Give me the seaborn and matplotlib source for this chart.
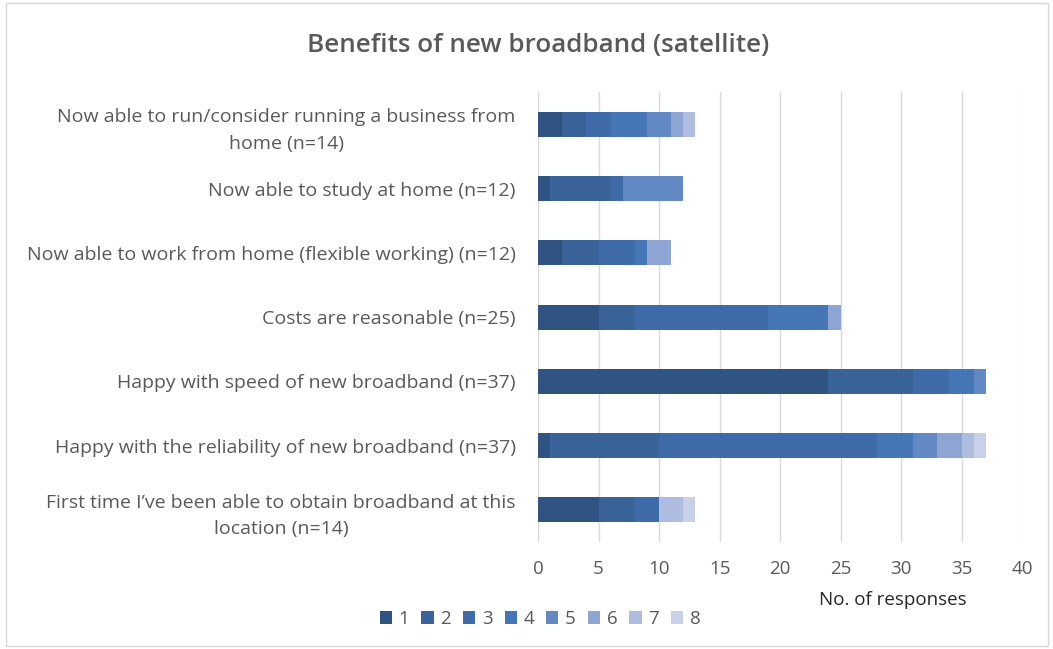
import matplotlib
matplotlib.use("Agg")
import matplotlib.pyplot as plt
import seaborn as sns
import pandas as pd
import numpy as np
from matplotlib.patches import Rectangle, Patch

# Survey categories (top to bottom)
categories = [
    "Now able to run/consider running a business from\nhome (n=14)",
    "Now able to study at home (n=12)",
    "Now able to work from home (flexible working) (n=12)",
    "Costs are reasonable (n=25)",
    "Happy with speed of new broadband (n=37)",
    "Happy with the reliability of new broadband (n=37)",
    "First time I\u2019ve been able to obtain broadband at this\nlocation (n=14)",
]

series_labels = ["1", "2", "3", "4", "5", "6", "7", "8"]

# Number of responses per rating, one list per rating
s1 = [2, 1, 2, 5, 24, 1, 5]
s2 = [2, 5, 3, 3, 7, 9, 3]
s3 = [2, 1, 3, 11, 3, 18, 2]
s4 = [3, 0, 1, 5, 2, 3, 0]
s5 = [2, 5, 0, 0, 1, 2, 0]
s6 = [1, 0, 2, 1, 0, 2, 0]
s7 = [1, 0, 0, 0, 0, 1, 2]
s8 = [0, 0, 0, 0, 0, 1, 1]

palette = ["#2f5383", "#3a6399", "#3f6ca8", "#4676b6",
           "#6389c4", "#8ea4d3", "#aebddf", "#c8d1e8"]

sns.set_theme(style="white")
plt.rcParams["font.family"] = ["Open Sans", "DejaVu Sans"]

FS = 13.5

fig = plt.figure(figsize=(10.53, 6.49), dpi=100)
ax = fig.add_axes([0.511, 0.165, 0.4596, 0.693])

series = np.array([s1, s2, s3, s4, s5, s6, s7, s8])
cum = np.cumsum(series, axis=0)

# Stacked bars: draw cumulative totals from the outermost segment inward
for k in reversed(range(len(series_labels))):
    df = pd.DataFrame({"category": categories, "value": cum[k]})
    sns.barplot(data=df, x="value", y="category", order=categories,
                color=palette[k], saturation=1, width=0.39,
                linewidth=0, orient="h", ax=ax)

ax.set_xlim(0, 40)
ax.set_xticks(np.arange(0, 41, 5))
ax.set_xlabel("")
ax.set_ylabel("")
ax.grid(axis="x", color="#d9d9d9", linewidth=1)
ax.grid(axis="y", visible=False)
ax.set_axisbelow(True)
for sp in ax.spines.values():
    sp.set_visible(False)

ax.tick_params(axis="y", length=0, pad=16, labelsize=14, labelcolor="#595959")
ax.tick_params(axis="x", length=0, pad=13, labelsize=FS, labelcolor="#595959")
for lbl in ax.get_yticklabels():
    lbl.set_multialignment("center")
    lbl.set_linespacing(1.6)

fig.text(0.511, 1 - 45 / 649, "Benefits of new broadband (satellite)",
         ha="center", va="center", fontsize=18.7, fontweight="semibold",
         color="#595959")

fig.text(893 / 1053, 1 - 600 / 649, "No. of responses", ha="center",
         va="center", fontsize=FS, color="#262626")

handles = [Patch(facecolor=c, edgecolor="none") for c in palette]
fig.legend(handles, series_labels, loc="center",
           bbox_to_anchor=(0.513, 1 - 619 / 649), ncol=8, frameon=False,
           handlelength=0.65, handleheight=0.65, handletextpad=0.35,
           columnspacing=0.65, fontsize=FS, labelcolor="#595959")

fig.patches.append(Rectangle((0.006, 0.004), 0.989, 0.992,
                             transform=fig.transFigure, fill=False,
                             edgecolor="#d9d9d9", linewidth=1))

fig.savefig("out.png", dpi=100)
